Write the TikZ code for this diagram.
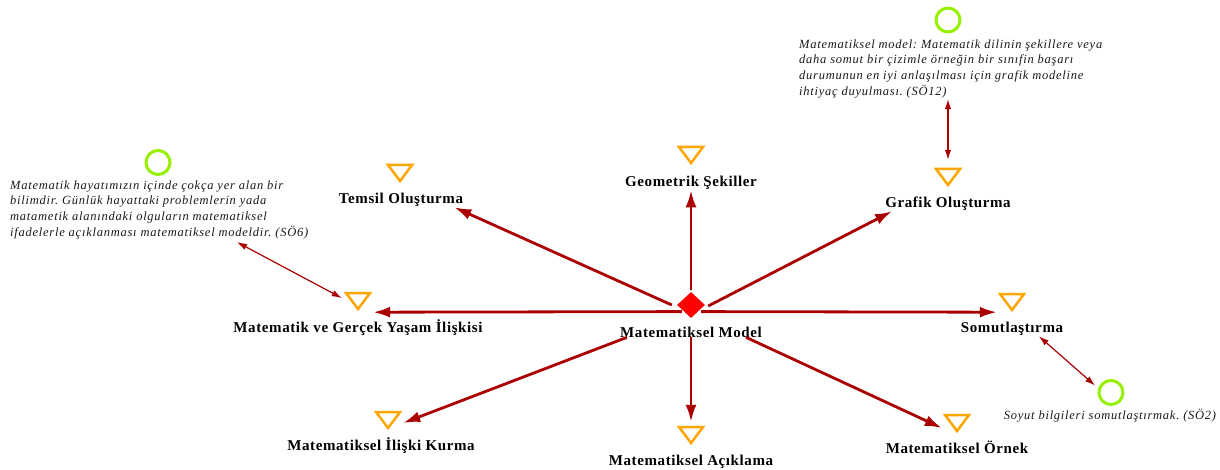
\documentclass[tikz,border=0pt]{standalone}
\usepackage{fontspec}
\setmainfont{Liberation Serif}
\newfontface\conceptfont{Liberation Serif Bold}[LetterSpace=4]
\newfontface\notefont{Liberation Serif Italic}[LetterSpace=6]
\usetikzlibrary{shapes.geometric,arrows.meta,calc}
\definecolor{linkred}{RGB}{170,0,0}
\definecolor{codeorange}{RGB}{255,165,0}
\definecolor{memogreen}{RGB}{150,240,0}
\definecolor{hubred}{RGB}{255,0,0}
\frenchspacing
\begin{document}
\begin{tikzpicture}[x=1pt,y=-1pt,
  hub/.style={diamond, fill=hubred, inner sep=0pt, minimum width=28pt, minimum height=26pt},
  code/.style={rectangle, inner sep=0pt, minimum width=28pt, minimum height=20pt},
  codetri/.style={draw=codeorange, line width=2.5pt, line join=miter},
  concept/.style={anchor=base, inner sep=0pt, font=\conceptfont\fontsize{15}{18}\selectfont},
  memo/.style={circle, draw=memogreen, line width=3pt, inner sep=0pt, minimum size=24pt},
  note/.style={anchor=north west, inner sep=0pt, align=left, text=black!90,
    font=\notefont\fontsize{12.5}{15.7}\selectfont\frenchspacing},
  link/.style={draw=linkred, line width=2.8pt, -{Latex[length=17pt,width=11pt]}},
  assoc/.style={draw=linkred, line width=1.2pt,
    {Latex[length=10pt,width=6.5pt]}-{Latex[length=10pt,width=6.5pt]}},
]
\useasboundingbox (0,0) rectangle (1220,470);

% central concept
\node[hub] (mm) at (691,305) {};
\node[concept] (mml) at (691,337) {Matematiksel Model};

% code icons and their labels
\node[code] (tGeo) at (691,155) {};
\node[concept] (lGeo) at (691,187) {Geometrik Şekiller};
\node[code] (tTem) at (400,173) {};
\node[concept] (lTem) at (401,204) {Temsil Oluşturma};
\node[code] (tGra) at (948,177) {};
\node[concept] (lGra) at (948,208) {Grafik Oluşturma};
\node[code] (tMvg) at (358,301) {};
\node[concept] (lMvg) at (358,332) {Matematik ve Gerçek Yaşam İlişkisi};
\node[code] (tSom) at (1012,302) {};
\node[concept] (lSom) at (1012,332) {Somutlaştırma};
\node[code] (tIli) at (388,420) {};
\node[concept] (lIli) at (381,450) {Matematiksel İlişki Kurma};
\node[code] (tAci) at (691,435) {};
\node[concept] (lAci) at (691,465) {Matematiksel Açıklama};
\node[code] (tOrn) at (957,423) {};
\node[concept] (lOrn) at (957,453) {Matematiksel Örnek};

\foreach \c in {tGeo,tTem,tGra,tMvg,tSom,tIli,tAci,tOrn}
  \draw[codetri] ($(\c)+(-12,-8)$) -- ($(\c)+(12,-8)$) -- ($(\c)+(0,8)$) -- cycle;

% memos
\node[memo] (c6) at (158,162.5) {};
\node[note] (d6) at (10,180.3) {Matematik hayatımızın içinde çokça yer alan bir\\
bilimdir. Günlük hayattaki problemlerin yada\\
matametik alanındaki olguların matematiksel\\
ifadelerle açıklanması matematiksel modeldir. (SÖ6)};
\node[memo] (c12) at (948,20) {};
\node[note] (d12) at (799,39.3) {Matematiksel model: Matematik dilinin şekillere veya\\
daha somut bir çizimle örneğin bir sınıfin başarı\\
durumunun en iyi anlaşılması için grafik modeline\\
ihtiyaç duyulması. (SÖ12)};
\node[memo] (c2) at (1111,392.5) {};
\node[note, anchor=base] (d2) at (1110,419) {Soyut bilgileri somutlaştırmak. (SÖ2)};

% links from the central concept
\draw[link] ($(mm.west)+(-5,0)$) -- ($(lTem.south east)+(-9,0)$);
\draw[link] ($(mm.north)+(0,-2)$) -- (lGeo.south);
\draw[link] ($(mm.east)+(3,1)$) -- ($(lGra.south west)+(7,0)$);
\draw[link] ($(mm.south west)+(-2,0)$) -- ($(tMvg.south east)+(1,1)$);
\draw[link] ($(mm.south east)+(3,0)$) -- ($(tSom.south west)+(-1,0)$);
\draw[link] ($(mml.south west)+(7,0)$) -- ($(tIli.east)+(1,3)$);
\draw[link] (mml.south) -- ($(tAci.north)+(0,-3)$);
\draw[link] ($(mml.south east)+(-16,0)$) -- ($(tOrn.west)+(-1,5)$);

% memo associations
\draw[assoc] ($(d6.south west)+(227,3)$) -- ($(tMvg.west)+(-2,-3)$);
\draw[assoc] ($(d12.south west)+(149,1)$) -- ($(tGra.north)+(0,-7)$);
\draw[assoc] ($(lSom.south)+(27,1)$) -- ($(c2)+(-16,-7)$);
\end{tikzpicture}
\end{document}
